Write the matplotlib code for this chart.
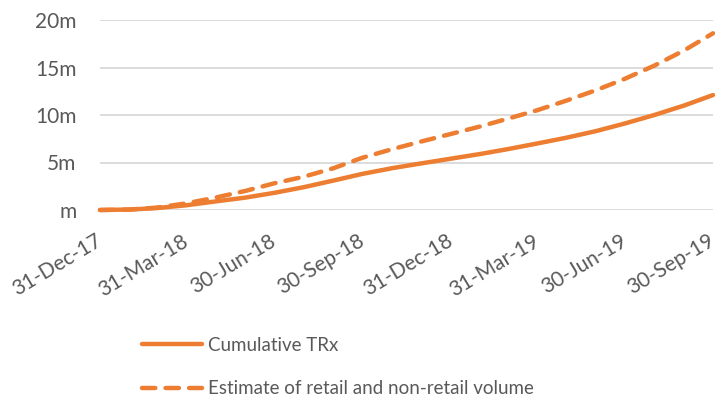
import numpy as np
import pandas as pd
import matplotlib
matplotlib.use('Agg')
import matplotlib.pyplot as plt
import matplotlib.dates as mdates
import matplotlib.transforms as mtransforms
from matplotlib.ticker import FuncFormatter

# Month-end cumulative volumes, in millions
months = pd.date_range('2017-12-31', '2019-09-30', freq='ME')
cumulative_trx = [0.0, 0.05, 0.2, 0.5, 0.9, 1.3, 1.8, 2.4, 3.1, 3.8, 4.4,
                  4.9, 5.4, 5.9, 6.4, 7.0, 7.6, 8.3, 9.1, 10.0, 11.0, 12.1]
estimate_total = [0.0, 0.05, 0.25, 0.7, 1.3, 2.0, 2.8, 3.5, 4.4, 5.5, 6.4,
                  7.2, 8.0, 8.8, 9.6, 10.5, 11.5, 12.6, 13.8, 15.2, 16.8, 18.6]
tick_dates = pd.to_datetime(['2017-12-31', '2018-03-31', '2018-06-30', '2018-09-30',
                             '2018-12-31', '2019-03-31', '2019-06-30', '2019-09-30'])

orange = '#ED7D31'
grey_text = '#595959'
plt.rcParams['font.family'] = ['Lato', 'DejaVu Sans']

fig = plt.figure(figsize=(7.17, 3.97), dpi=100)
ax = fig.add_axes([100 / 717, 1 - 210 / 397, 613 / 717, 190 / 397])

ax.plot(months, cumulative_trx, color=orange, lw=3.2, solid_capstyle='round',
        label='Cumulative TRx')
ax.plot(months, estimate_total, color=orange, lw=3.2, dashes=(3.0, 2.3),
        dash_capstyle='round', label='Estimate of retail and non-retail volume')

ax.set_ylim(0, 20)
ax.set_yticks([0, 5, 10, 15, 20])
ax.yaxis.set_major_formatter(FuncFormatter(lambda v, p: 'm' if v == 0 else f'{v:.0f}m'))
ax.set_xlim(months[0], months[-1])
ax.set_xticks(tick_dates)
ax.xaxis.set_major_formatter(mdates.DateFormatter('%d-%b-%y'))

ax.grid(axis='y', color='#D9D9D9', lw=1.3)
ax.set_axisbelow(True)
for s in ax.spines.values():
    s.set_visible(False)
ax.tick_params(length=0, labelsize=15, labelcolor=grey_text)
ax.tick_params(axis='y', pad=17)
ax.tick_params(axis='x', pad=15)
shift = mtransforms.ScaledTranslation(-5 / 100, 0, fig.dpi_scale_trans)
for lbl in ax.get_xticklabels():
    lbl.set_rotation(31)
    lbl.set_ha('right')
    lbl.set_rotation_mode('anchor')
    lbl.set_transform(lbl.get_transform() + shift)
for ln in ax.get_lines():
    ln.set_clip_on(False)

leg = fig.legend(loc='upper left', bbox_to_anchor=(125 / 717, 1 - 320 / 397),
                 frameon=False, fontsize=13.5, handlelength=3.2, handletextpad=0.35,
                 labelspacing=1.4)
for t in leg.get_texts():
    t.set_color(grey_text)

fig.savefig('out.png', dpi=100)
